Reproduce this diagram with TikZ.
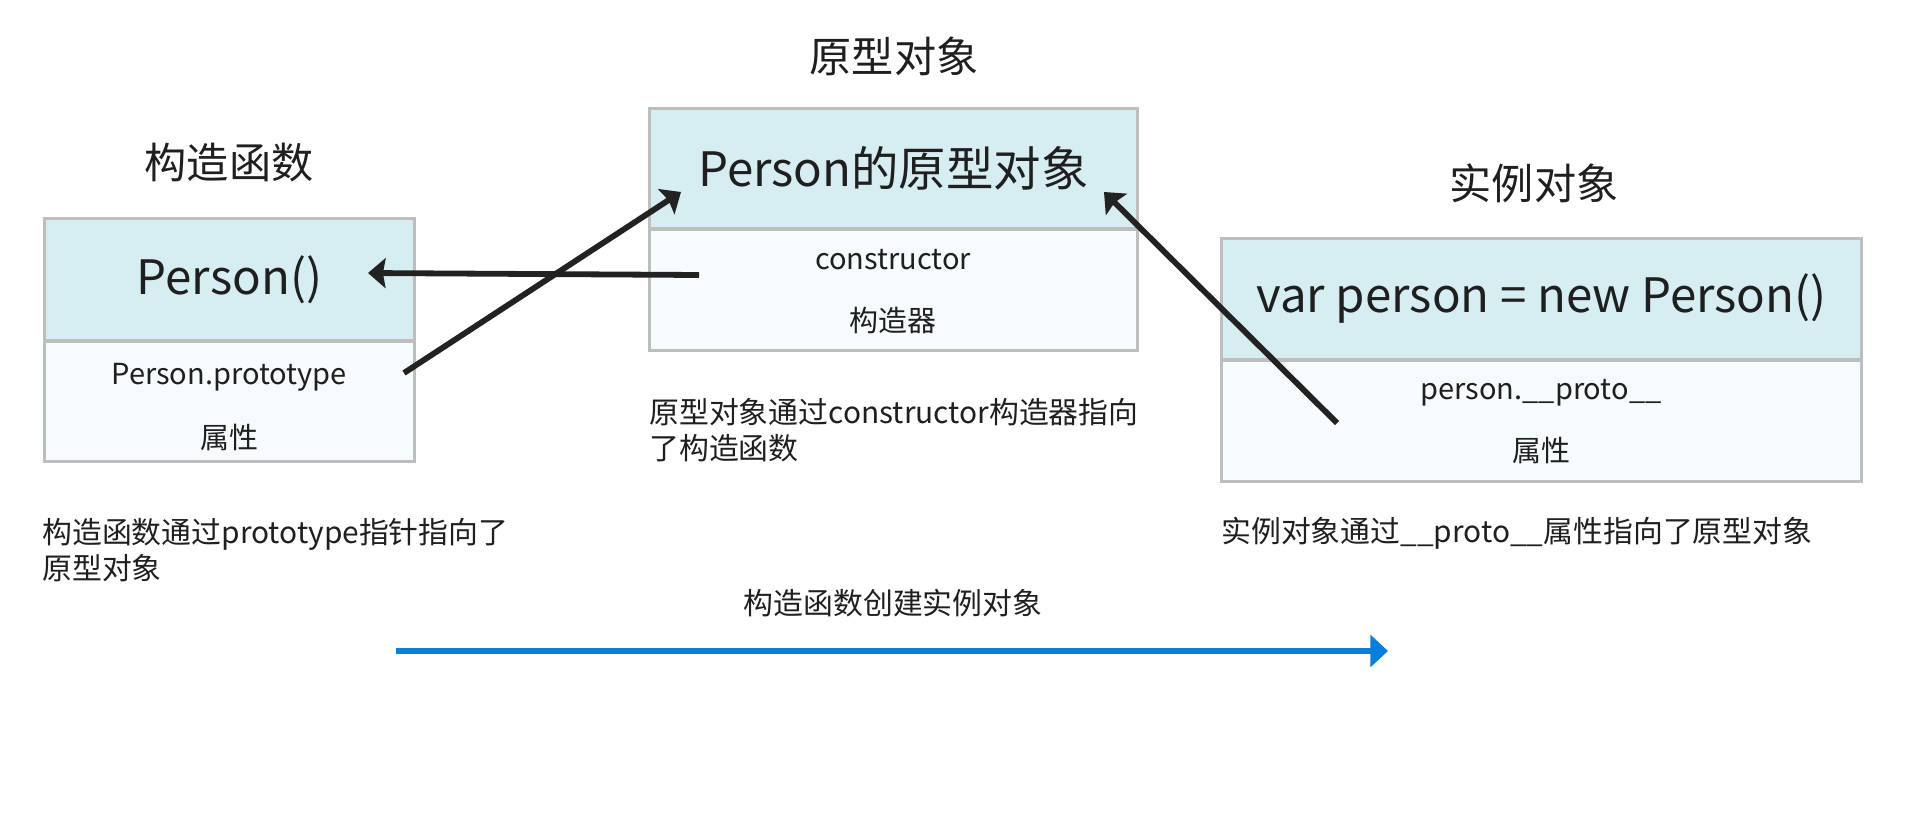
\documentclass[tikz,border=0pt]{standalone}
\usepackage{fontspec}
\setmainfont{Noto Sans CJK SC}
\usetikzlibrary{arrows.meta}
\definecolor{headfill}{HTML}{D6EEF2}
\definecolor{bodyfill}{HTML}{F6FBFD}
\definecolor{frame}{HTML}{BEBEBE}
\definecolor{ink}{HTML}{222222}
\definecolor{flow}{HTML}{0A7ED8}
\begin{document}
\begin{tikzpicture}[x=0.02cm,y=-0.02cm,text=ink!90!black,
    head/.style={draw=frame,fill=headfill,line width=1.7pt,inner sep=0pt,font=\fontsize{27}{31}\selectfont},
    body/.style={draw=frame,fill=bodyfill,line width=1.7pt,inner sep=0pt},
    title/.style={font=\fontsize{24}{28}\selectfont},
    small/.style={font=\fontsize{16.5}{20}\selectfont},
    note/.style={font=\fontsize{17}{20.5}\selectfont,align=left,anchor=west,inner sep=0pt},
    link/.style={draw=ink,line width=3.3pt,-{Stealth[length=10pt,width=17pt,inset=1.5pt]}}]
    \useasboundingbox (0,0) rectangle (1908,818);
    % titles
    \node[title] (ctortitle) at (229,163) {构造函数};
    \node[title] (prototitle) at (894,56) {原型对象};
    \node[title] (insttitle) at (1534,183) {实例对象};
    % constructor
    \node[head,minimum width=7.42cm,minimum height=2.46cm] (ctorhead) at (229.5,279.5) {Person()};
    \node[body,minimum width=7.42cm,minimum height=2.42cm] (ctorbody) at (229.5,401.5) {};
    \node[small] (ctorprop) at (229,377) {Person.prototype};
    \node[small] (ctorattr) at (229,437) {属性};
    % prototype
    \node[head,minimum width=9.78cm,minimum height=2.42cm] (protohead) at (893.5,168.5) {Person的原型对象};
    \node[body,minimum width=9.78cm,minimum height=2.44cm] (protobody) at (893.5,290) {};
    \node[small] (protoprop) at (893,260) {constructor};
    \node[small] (protoattr) at (893,320) {构造器};
    % instance
    \node[head,minimum width=12.82cm,minimum height=2.44cm] (insthead) at (1541.5,299) {var person = new Person()};
    \node[body,minimum width=12.82cm,minimum height=2.44cm] (instbody) at (1541.5,421) {};
    \node[small] (instprop) at (1541,393) {person.\_\_proto\_\_};
    \node[small] (instattr) at (1541,450) {属性};
    % notes
    \node[note] (ctornote) at (42,550) {构造函数通过prototype指针指向了\\原型对象};
    \node[note] (protonote) at (649,430) {原型对象通过constructor构造器指向\\了构造函数};
    \node[note] (instnote) at (1221,533) {实例对象通过\_\_proto\_\_属性指向了原型对象};
    \node[font=\fontsize{17}{20}\selectfont] (flowlabel) at (893,603) {构造函数创建实例对象};
    % pointers
    \coordinate (ptrfrom) at (404,373);
    \coordinate (ptrto) at (681,192);
    \coordinate (backfrom) at (699,275);
    \coordinate (backto) at (368,273);
    \coordinate (instfrom) at (1337,423);
    \coordinate (instto) at (1104,192);
    \coordinate (flowfrom) at (396,651);
    \coordinate (flowto) at (1388,651);
    \draw[link] (ptrfrom) -- (ptrto);
    \draw[link] (backfrom) -- (backto);
    \draw[link] (instfrom) -- (instto);
    \draw[flow,line width=3.4pt,-{Triangle[length=10pt,width=18pt]}] (flowfrom) -- (flowto);
\end{tikzpicture}
\end{document}
